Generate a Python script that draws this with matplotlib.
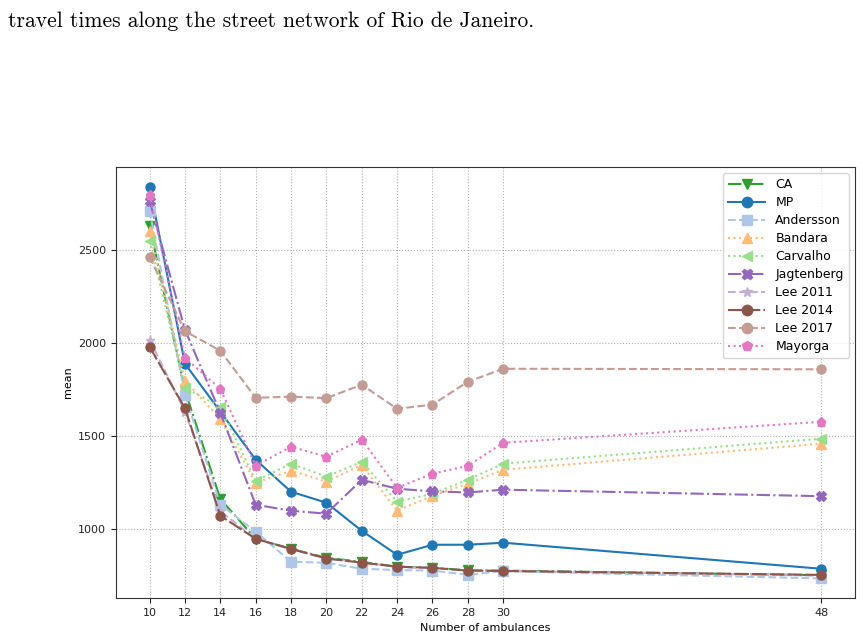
import matplotlib
matplotlib.use("Agg")
import matplotlib.pyplot as plt

# number of ambulances
ambulances = [10, 12, 14, 16, 18, 20, 22, 24, 26, 28, 30, 48]

# mean response times per method
ca = [2629, 1745, 1160, 946, 892, 844, 822, 796, 790, 777, 775, 750]
mp = [2839, 1887, 1630, 1371, 1199, 1140, 989, 860, 914, 914, 925, 785]
andersson = [2710, 1720, 1130, 984, 823, 817, 785, 778, 775, 753, 772, 733]
bandara = [2602, 1796, 1591, 1247, 1312, 1253, 1344, 1097, 1177, 1242, 1317, 1457]
carvalho = [2548, 1758, 1656, 1258, 1350, 1280, 1360, 1146, 1188, 1263, 1350, 1484]
jagtenberg = [2763, 2070, 1624, 1129, 1097, 1081, 1263, 1215, 1201, 1195, 1210, 1175]
lee2011 = [2016, 1630, 1095, 945, 890, 840, 818, 795, 788, 776, 774, 748]
lee2014 = [1978, 1648, 1070, 946, 892, 840, 818, 796, 790, 775, 773, 752]
lee2017 = [2462, 2062, 1957, 1704, 1710, 1702, 1774, 1645, 1667, 1790, 1860, 1857]
mayorga = [2796, 1919, 1752, 1339, 1441, 1387, 1479, 1220, 1296, 1338, 1462, 1575]

series = [
    ("CA", ca, "#2ca02c", "v", "-."),
    ("MP", mp, "#1f77b4", "o", "-"),
    ("Andersson", andersson, "#aec7e8", "s", "--"),
    ("Bandara", bandara, "#ffbb78", "^", ":"),
    ("Carvalho", carvalho, "#98df8a", "<", ":"),
    ("Jagtenberg", jagtenberg, "#9467bd", "X", "-."),
    ("Lee 2011", lee2011, "#c5b0d5", "*", "--"),
    ("Lee 2014", lee2014, "#8c564b", "o", (0, (7, 1.5))),
    ("Lee 2017", lee2017, "#c49c94", "o", "--"),
    ("Mayorga", mayorga, "#e377c2", "p", ":"),
]

fig = plt.figure(figsize=(8.63, 6.37), dpi=100)
fig.text(0.009, 0.966, "travel times along the street network of Rio de Janeiro.",
         fontname="cmr10", fontsize=15.5, va="center", ha="left")

ax = fig.add_axes([0.1344, 0.0612, 0.8563, 0.6766])
for name, vals, col, mk, ls in series:
    ax.plot(ambulances, vals, color=col, marker=mk, linestyle=ls,
            linewidth=1.5, markersize=6.5, label=name)

ax.set_xticks(ambulances)
ax.set_yticks([1000, 1500, 2000, 2500])
ax.tick_params(labelsize=8, colors="#222222")
ax.grid(True, linestyle=":", color="#b0b0b0", linewidth=0.8)
ax.set_xlabel("Number of ambulances", fontsize=8)
ax.set_ylabel("mean", fontsize=8)
for sp in ax.spines.values():
    sp.set_color("#333333")
ax.legend(loc="upper right", fontsize=9, handlelength=3, labelspacing=0.4,
          borderpad=0.4, framealpha=0.8, markerscale=1.15)

fig.savefig("out.png", dpi=100)
